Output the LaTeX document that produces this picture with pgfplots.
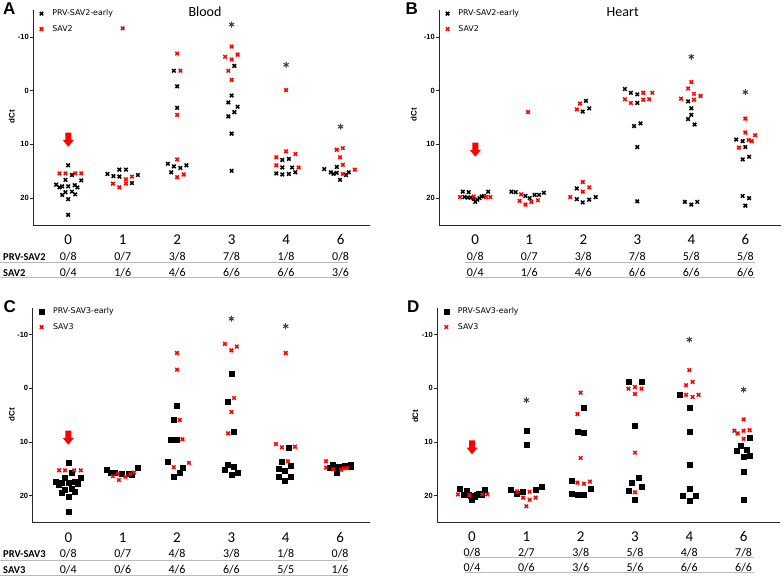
\documentclass[border=0pt]{standalone}
\usepackage{pgfplots}
\pgfplotsset{compat=1.18}
\usepackage{fontspec}
\setmainfont{Carlito}
\newfontfamily\dejavu{DejaVu Sans}
\newfontfamily\libsans{Liberation Sans}
\pgfplotsset{
 panel/.style={
  scale only axis,
  axis x line*=bottom, axis y line*=left,
  axis line style={-, line width=0.8pt, black!85},
  ymin=-25, ymax=15,
  y filter/.expression={-y},
  ytick={-20,-10,0,10}, yticklabels={20,10,0,-10},
  xtick=\empty,
  tick align=outside, major tick length=3pt,
  ytick style={line width=0.6pt, black!85},
  yticklabel style={font=\libsans\bfseries\fontsize{7.5}{8}\selectfont, inner sep=1pt},
  clip=false,
  legend cell align=left,
  legend style={draw=none, fill=none, inner sep=0pt, outer sep=0pt,
    font=\dejavu\fontsize{7.9}{9}\selectfont, row sep=4pt, column sep=7pt,
    anchor=north west},
  legend image code/.code={\draw[##1] plot coordinates {(0pt,0pt)};},
 },
 bx/.style={only marks, mark=x, mark size=2.5pt, black, line width=1.5pt},
 rx/.style={only marks, mark=x, mark size=2.5pt, red, line width=1.5pt},
 bs/.style={only marks, mark=square*, mark size=2.5pt, black},
 st/.style={only marks, mark=asterisk, mark size=3pt, black!75, line width=1pt, forget plot},
}
\begin{document}
\begin{tikzpicture}
\useasboundingbox (0,0) rectangle (784pt,577pt);
% ---------------- A
\begin{axis}[panel, at={(33pt,352pt)}, anchor=south west, width=337pt, height=215pt,
  xmin=-0.646, xmax=5.54, legend style={at={(axis description cs:0.02,1.01)}}]
\addplot[bx] table {
x y
0.00 13.9
0.07 15.7
-0.05 16.6
0.24 16.7
-0.22 17.5
-0.16 18.0
-0.11 17.8
0.00 17.8
0.12 17.6
0.17 18.0
-0.05 18.9
0.07 18.8
0.13 19.3
-0.11 19.4
0.00 20.2
0.00 23.1
0.72 15.5
0.83 15.9
0.94 14.7
1.06 14.7
0.94 16.0
1.17 17.2
1.28 15.7
1.94 -3.7
2.00 -0.8
2.00 3.2
1.83 13.6
1.94 14.1
2.06 14.4
2.17 13.9
1.89 15.2
3.05 -4.6
3.00 0.9
2.94 2.2
3.11 3.0
3.05 4.0
2.94 4.8
3.00 8.0
3.00 14.9
3.93 12.9
4.05 12.7
3.93 14.3
4.11 14.3
3.82 15.4
3.93 15.6
4.05 15.5
4.17 15.2
4.70 14.6
4.93 14.2
4.82 15.2
4.87 15.5
4.93 15.3
5.10 15.7
5.15 15.2
4.99 16.6
};
\addlegendentry{PRV-SAV2-early}
\addplot[rx] table {
x y
-0.16 15.4
-0.05 15.4
0.13 15.4
0.24 15.4
1.00 -11.6
0.82 17.3
0.94 18.0
1.06 16.5
1.06 17.3
1.17 16.0
2.00 -6.9
2.06 -3.7
2.00 4.5
2.00 12.8
2.00 16.1
2.12 15.6
3.00 -8.2
2.88 -6.3
3.11 -6.7
3.00 -5.8
2.94 -3.7
3.00 -2.0
4.00 -0.1
4.00 11.3
3.82 12.4
4.17 11.8
3.82 13.9
4.23 14.3
4.93 11.0
5.04 10.7
4.99 12.4
5.04 13.8
5.26 14.7
5.04 15.5
};
\addlegendentry{SAV2}
\addplot[st] coordinates {(3,-12.3) (4,-4.8) (5,6.7)};
\end{axis}
% ---------------- B
\begin{axis}[panel, at={(439pt,352pt)}, anchor=south west, width=342pt, height=215pt,
  xmin=-0.67, xmax=5.66, legend style={at={(axis description cs:0.02,1.01)}}]
\addplot[bx] table {
x y
-0.23 18.8
-0.12 18.9
0.24 18.8
-0.20 19.8
-0.14 19.9
-0.08 19.9
-0.03 20.1
0.00 20.7
0.04 20.3
0.08 20.0
0.12 19.7
0.16 19.6
0.67 18.8
0.75 18.9
0.93 19.6
1.01 20.0
1.10 19.4
1.18 19.4
1.27 19.0
2.05 1.9
1.99 3.9
2.11 3.3
1.88 18.2
1.88 20.2
1.99 20.8
2.11 20.3
2.23 19.8
2.77 -0.3
2.88 0.4
3.00 0.7
3.00 2.3
2.94 6.6
3.06 6.1
3.00 10.5
3.00 20.6
3.94 2.0
4.00 3.3
4.00 4.5
3.94 5.3
4.06 6.3
3.88 20.7
4.00 21.2
4.11 20.7
4.83 9.1
4.95 9.4
5.00 10.5
4.95 12.8
5.07 12.3
4.95 19.6
5.07 20.0
5.00 21.4
};
\addlegendentry{PRV-SAV2-early}
\addplot[rx] table {
x y
-0.28 19.8
-0.03 19.7
0.20 19.8
0.28 19.8
0.98 4.0
0.85 19.3
0.82 20.5
0.93 21.2
1.04 20.7
1.16 20.4
1.94 2.4
1.88 3.5
1.99 17.0
1.99 18.8
2.11 18.0
1.76 19.8
2.77 1.6
2.88 2.3
3.11 0.4
3.11 1.7
3.22 1.6
3.28 0.4
4.00 -1.6
3.94 -0.4
4.05 0.6
3.81 1.5
4.05 1.7
4.17 1.0
5.00 5.2
5.00 7.8
5.06 9.2
5.12 9.4
5.18 8.3
4.88 10.6
};
\addlegendentry{SAV2}
\addplot[st] coordinates {(4,-6.3) (5,0.3)};
\end{axis}
% ---------------- C
\begin{axis}[panel, at={(32.3pt,54.7pt)}, anchor=south west, width=337.7pt, height=214.3pt,
  xmin=-0.662, xmax=5.55, legend style={at={(axis description cs:0.02,1.01)}}]
\addplot[bs] table {
x y
0.00 13.9
0.06 15.7
-0.06 16.6
0.23 16.6
-0.23 17.4
-0.17 17.9
-0.12 17.7
0.00 17.7
0.11 17.5
0.17 17.8
-0.06 18.9
0.06 18.8
0.11 19.3
-0.12 19.4
0.00 20.2
0.00 23.0
0.71 15.1
0.78 15.7
0.85 15.8
0.99 16.0
1.11 16.0
1.16 16.1
1.28 14.8
2.00 3.2
1.94 5.9
1.88 9.5
2.00 9.6
1.82 13.7
2.11 14.9
2.05 15.8
1.94 16.5
3.00 -2.7
2.94 2.5
3.05 8.1
2.94 14.2
2.88 15.2
3.05 14.7
3.00 16.1
3.11 15.8
4.05 11.1
3.93 13.6
3.87 15.0
3.99 15.4
4.10 14.5
3.87 16.4
3.99 17.3
4.10 16.5
4.86 14.3
4.91 14.6
4.80 14.9
4.94 15.7
5.02 14.6
5.08 14.4
5.20 14.2
5.20 14.7
};
\addlegendentry{PRV-SAV3-early}
\addplot[rx] table {
x y
-0.17 15.3
-0.06 15.3
0.11 15.3
0.23 15.3
0.82 16.4
0.91 16.0
0.93 17.1
1.05 16.5
1.14 16.0
1.21 15.7
2.00 -6.6
2.00 -3.5
2.05 5.9
2.10 9.5
1.94 14.7
2.22 13.9
2.88 -8.3
3.00 -7.1
3.10 -7.8
3.05 1.8
3.00 4.4
2.94 8.4
4.00 -6.6
3.82 10.4
3.93 11.0
4.17 10.9
4.04 13.6
4.74 13.6
4.74 14.8
4.87 15.1
5.02 15.2
5.07 14.9
5.13 14.9
};
\addlegendentry{SAV3}
\addplot[st] coordinates {(3,-13.0) (4,-11.6)};
\end{axis}
% ---------------- D
\begin{axis}[panel, at={(437pt,54.7pt)}, anchor=south west, width=343pt, height=214.3pt,
  xmin=-0.645, xmax=5.67, legend style={at={(axis description cs:0.02,1.01)}}]
\addplot[bs] table {
x y
-0.22 18.8
-0.10 19.1
0.24 18.9
-0.16 19.9
-0.06 19.9
-0.03 20.1
0.00 20.7
0.05 20.3
0.09 19.8
0.13 19.6
0.17 19.8
1.00 7.9
1.00 10.6
0.72 18.9
0.83 19.7
0.94 19.3
1.17 19.0
1.28 18.4
2.06 3.7
1.94 8.0
2.06 8.3
1.83 17.3
1.83 19.7
1.94 19.8
2.06 19.8
2.18 18.7
2.88 -1.2
3.12 -1.2
3.00 7.0
3.06 16.6
2.94 17.6
3.12 18.4
2.88 19.1
3.00 20.8
3.82 1.1
4.00 3.7
4.00 8.1
4.00 14.3
4.00 18.7
3.88 20.1
4.11 20.1
4.00 20.9
5.11 9.2
4.94 10.7
4.88 11.7
5.06 11.4
5.00 12.7
5.11 12.5
5.00 15.5
5.00 20.7
};
\addlegendentry{PRV-SAV3-early}
\addplot[rx] table {
x y
-0.26 19.8
-0.05 19.9
0.19 19.8
0.28 19.8
0.83 19.2
1.06 19.3
0.94 20.4
1.06 20.8
1.17 20.4
1.00 22.0
2.00 0.8
1.94 4.8
2.00 13.0
1.94 17.6
2.06 17.8
2.17 17.4
2.88 0.06
3.00 -0.25
3.12 0.06
3.00 1.06
3.00 12.0
3.00 19.4
4.00 -3.4
4.06 -1.2
3.94 -0.6
3.94 1.2
4.06 1.6
4.17 1.2
5.00 5.8
4.83 7.9
4.89 8.4
5.00 7.9
5.11 7.8
5.00 9.4
};
\addlegendentry{SAV3}
\addplot[st] coordinates {(1,2.2) (4,-9.1) (5,0.25)};
\end{axis}
% ---------------- annotations
\begin{scope}[x=1pt,y=1pt]
% arrows
\foreach \cx/\ty in {68.3/444.3, 475.3/434.3, 68.3/146.3, 472/136.7}{
  \fill[red] (\cx-3,\ty) -- (\cx+3,\ty) -- (\cx+3,\ty-7.3) -- (\cx+5.5,\ty-7.3) -- (\cx,\ty-14) -- (\cx-5.5,\ty-7.3) -- (\cx-3,\ty-7.3) -- cycle;}
% panel letters
\foreach \px/\py/\t in {3/562/A, 405.3/562/B, 3.3/264/C, 407/264/D}{
  \node[anchor=base west, inner sep=0pt, font=\libsans\bfseries\fontsize{17}{17}\selectfont] at (\px,\py) {\t};}
% titles
\node[anchor=base, inner sep=0pt, font=\fontsize{14}{14}\selectfont] at (205,560) {Blood};
\node[anchor=base, inner sep=0pt, font=\fontsize{14}{14}\selectfont] at (622.7,560) {Heart};
% dCt
\foreach \px/\py in {11.7/460, 413.7/462, 11.7/162.3, 415.3/160.7}{
  \node[rotate=90, inner sep=0pt, font=\libsans\bfseries\fontsize{8}{9}\selectfont] at (\px,\py) {dCt};}
% category labels
\foreach \x/\t in {68.2/0,122.7/1,177.2/2,231.6/3,286.1/4,340.6/6}{
  \node[anchor=base, inner sep=0pt, font=\fontsize{15}{15}\selectfont] at (\x,332) {\t};}
\foreach \x/\t in {475.2/0,529.2/1,583.3/2,637.3/3,691.3/4,745.4/6}{
  \node[anchor=base, inner sep=0pt, font=\fontsize{15}{15}\selectfont] at (\x,332) {\t};}
\foreach \x/\t in {68.3/0,122.7/1,177.0/2,231.4/3,285.7/4,340.1/6}{
  \node[anchor=base, inner sep=0pt, font=\fontsize{15}{15}\selectfont] at (\x,34) {\t};}
\foreach \x/\t in {472.0/0,526.4/1,580.7/2,635.0/3,689.3/4,743.6/6}{
  \node[anchor=base, inner sep=0pt, font=\fontsize{15}{15}\selectfont] at (\x,35.7) {\t};}
% table lines
\draw[gray!55, line width=1.4pt] (0,314.5) -- (348,314.5) (0,299.3) -- (348,299.3);
\draw[gray!55, line width=1.4pt] (465.3,314.5) -- (755.3,314.5) (465.3,299.3) -- (755.3,299.3);
\draw[gray!55, line width=1.4pt] (0,16.7) -- (348,16.7) (0,1.7) -- (348,1.7);
\draw[gray!55, line width=1.4pt] (465.3,19.7) -- (753.7,19.7) (465.3,4.7) -- (753.7,4.7);
% row labels
\node[anchor=base west, inner sep=0pt, font=\bfseries\fontsize{10.5}{11}\selectfont] at (3,316.7) {PRV-SAV2};
\node[anchor=base west, inner sep=0pt, font=\bfseries\fontsize{10.5}{11}\selectfont] at (3,300.3) {SAV2};
\node[anchor=base west, inner sep=0pt, font=\bfseries\fontsize{10.5}{11}\selectfont] at (3,19) {PRV-SAV3};
\node[anchor=base west, inner sep=0pt, font=\bfseries\fontsize{10.5}{11}\selectfont] at (3,3) {SAV3};
% fractions
\foreach \x/\a/\b in {68.2/0\slash8/0\slash4, 122.7/0\slash7/1\slash6, 177.2/3\slash8/4\slash6, 231.6/7\slash8/6\slash6, 286.1/1\slash8/6\slash6, 340.6/0\slash8/3\slash6}{
  \node[anchor=base, inner sep=0pt, font=\fontsize{12}{12}\selectfont] at (\x,316.7) {\a};
  \node[anchor=base, inner sep=0pt, font=\fontsize{12}{12}\selectfont] at (\x,300.3) {\b};}
\foreach \x/\a/\b in {475.2/0\slash8/0\slash4, 529.2/0\slash7/1\slash6, 583.3/3\slash8/4\slash6, 637.3/7\slash8/6\slash6, 691.3/5\slash8/6\slash6, 745.4/5\slash8/6\slash6}{
  \node[anchor=base, inner sep=0pt, font=\fontsize{12}{12}\selectfont] at (\x,316.7) {\a};
  \node[anchor=base, inner sep=0pt, font=\fontsize{12}{12}\selectfont] at (\x,300.3) {\b};}
\foreach \x/\a/\b in {68.3/0\slash8/0\slash4, 122.7/0\slash7/0\slash6, 177.0/4\slash8/4\slash6, 231.4/3\slash8/6\slash6, 285.7/1\slash8/5\slash5, 340.1/0\slash8/1\slash6}{
  \node[anchor=base, inner sep=0pt, font=\fontsize{12}{12}\selectfont] at (\x,19) {\a};
  \node[anchor=base, inner sep=0pt, font=\fontsize{12}{12}\selectfont] at (\x,3) {\b};}
\foreach \x/\a/\b in {472.0/0\slash8/0\slash4, 526.4/2\slash7/0\slash6, 580.7/3\slash8/3\slash6, 635.0/5\slash8/5\slash6, 689.3/4\slash8/6\slash6, 743.6/7\slash8/6\slash6}{
  \node[anchor=base, inner sep=0pt, font=\fontsize{12}{12}\selectfont] at (\x,20.7) {\a};
  \node[anchor=base, inner sep=0pt, font=\fontsize{12}{12}\selectfont] at (\x,5.7) {\b};}
\end{scope}
\end{tikzpicture}
\end{document}
